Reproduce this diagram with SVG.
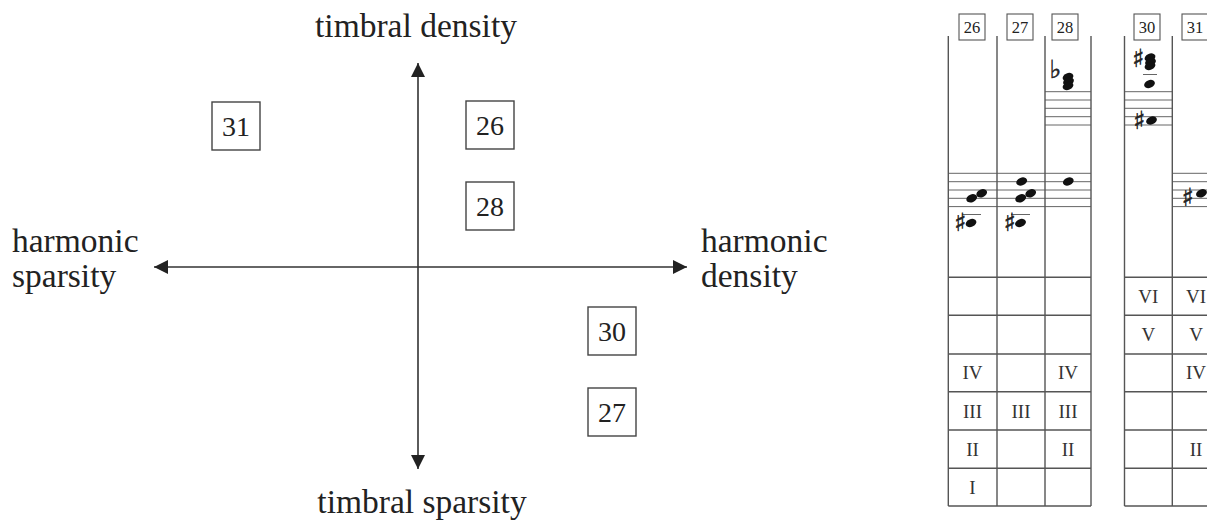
<svg xmlns="http://www.w3.org/2000/svg" width="1207" height="523" viewBox="0 0 1207 523">
<style>
.lbl{font-family:"Liberation Serif","Times New Roman",serif;font-size:33.5px;fill:#222}
.num{font-family:"Liberation Serif","Times New Roman",serif;font-size:28px;fill:#222;text-anchor:middle}
.box{fill:#fff;stroke:#444;stroke-width:1.4}
.axis{stroke:#333;stroke-width:1.6;fill:none}
.grid{stroke:#555;stroke-width:1.4;fill:none}
.staff{stroke:#666;stroke-width:1;fill:none}
.hb{fill:#fff;stroke:#555;stroke-width:1.1}
.hn{font-family:"Liberation Serif","Times New Roman",serif;font-size:16.5px;fill:#222;text-anchor:middle}
.rn{font-family:"Liberation Serif","Times New Roman",serif;font-size:19px;fill:#333;text-anchor:middle}
.acc{font-family:"DejaVu Sans",sans-serif;font-size:25px;fill:#222;stroke:#222;stroke-width:0.5;text-anchor:middle}
.nh{fill:#111}
</style>
<defs>
<marker id="ah" markerUnits="userSpaceOnUse" markerWidth="15" markerHeight="14" refX="14" refY="7" orient="auto-start-reverse">
<path d="M0,0 L14,7 L0,14 z" fill="#222"/>
</marker>
<ellipse id="note" rx="5.6" ry="3.9" transform="rotate(-22)" class="nh"/>
</defs>
<g id="connectors">
<line class="axis" x1="154" y1="267" x2="687" y2="267" marker-start="url(#ah)" marker-end="url(#ah)"/>
<line class="axis" x1="418" y1="63" x2="418" y2="469" marker-start="url(#ah)" marker-end="url(#ah)"/>
</g>
<g id="label-timbral-density"><text class="lbl" x="416" y="37" text-anchor="middle">timbral density</text></g>
<g id="label-timbral-sparsity"><text class="lbl" x="422" y="513" text-anchor="middle">timbral sparsity</text></g>
<g id="label-harmonic-sparsity"><text class="lbl" x="12" y="252">harmonic</text><text class="lbl" x="12" y="287">sparsity</text></g>
<g id="label-harmonic-density"><text class="lbl" x="701" y="252">harmonic</text><text class="lbl" x="701" y="287">density</text></g>
<g id="node-31"><rect class="box" x="212" y="102" width="48" height="48"/><text class="num" x="236" y="136">31</text></g>
<g id="node-26"><rect class="box" x="466" y="101" width="48" height="48"/><text class="num" x="490" y="135">26</text></g>
<g id="node-28"><rect class="box" x="466" y="182" width="48" height="48"/><text class="num" x="490" y="216">28</text></g>
<g id="node-30"><rect class="box" x="588" y="307" width="48" height="48"/><text class="num" x="612" y="341">30</text></g>
<g id="node-27"><rect class="box" x="588" y="388" width="48" height="48"/><text class="num" x="612" y="422">27</text></g>
<g id="score">
<g id="staff-lines">
<path class="staff" d="M948 173.3H1091M948 181.7H1091M948 190H1091M948 198.3H1091M948 206.6H1091"/>
<path class="staff" d="M1045 91.7H1091M1045 100H1091M1045 108.3H1091M1045 116.7H1091M1045 125H1091"/>
<path class="staff" d="M1124.5 91.7H1172.3M1124.5 100H1172.3M1124.5 108.3H1172.3M1124.5 116.7H1172.3M1124.5 125H1172.3"/>
<path class="staff" d="M1172.3 173.3H1207M1172.3 181.7H1207M1172.3 190H1207M1172.3 198.3H1207M1172.3 206.6H1207"/>
<path class="staff" d="M962 214.5H981M1011 214.5H1030M1143 74.5H1157"/>
</g>
<g id="grid">
<path class="grid" d="M948.3 36V506M997 36V506M1045 36V506M1091 36V506M1124.5 36V506M1172.3 36V506"/>
<path class="grid" d="M948.3 277.3H1091M948.3 315.3H1091M948.3 354H1091M948.3 391.7H1091M948.3 430H1091M948.3 468.3H1091M948.3 506H1091"/>
<path class="grid" d="M1124.5 277.3H1207M1124.5 315.3H1207M1124.5 354H1207M1124.5 391.7H1207M1124.5 430H1207M1124.5 468.3H1207M1124.5 506H1207"/>
</g>
<g id="col-26"><rect class="hb" x="959" y="14" width="26" height="26"/><text class="hn" x="972" y="33">26</text>
<use href="#note" transform="translate(971.7 198.3)"/><use href="#note" transform="translate(981.7 193.3)"/>
<text class="acc" x="960" y="231">♯︎</text><use href="#note" transform="translate(971 223)"/></g>
<g id="col-27"><rect class="hb" x="1007" y="14" width="26" height="26"/><text class="hn" x="1020" y="33">27</text>
<use href="#note" transform="translate(1021.7 181.5)"/><use href="#note" transform="translate(1020.7 198.3)"/><use href="#note" transform="translate(1030.7 193.3)"/>
<text class="acc" x="1009.5" y="231">♯︎</text><use href="#note" transform="translate(1020.5 223)"/></g>
<g id="col-28"><rect class="hb" x="1052" y="14" width="26" height="26"/><text class="hn" x="1065" y="33">28</text>
<text class="acc" x="1055.5" y="78">♭︎</text><use href="#note" transform="translate(1068 77)"/><use href="#note" transform="translate(1068.5 81.5)"/><use href="#note" transform="translate(1068 86)"/>
<use href="#note" transform="translate(1068.3 181.5)"/></g>
<g id="col-30"><rect class="hb" x="1134" y="14" width="26" height="26"/><text class="hn" x="1147" y="33">30</text>
<text class="acc" x="1138" y="67">♯︎</text><use href="#note" transform="translate(1150 57.5)"/><use href="#note" transform="translate(1150.5 62)"/><use href="#note" transform="translate(1150 66)"/>
<use href="#note" transform="translate(1149.5 84)"/>
<text class="acc" x="1139" y="129">♯︎</text><use href="#note" transform="translate(1151.5 120.5)"/></g>
<g id="col-31"><rect class="hb" x="1182" y="14" width="30" height="26"/><text class="hn" x="1195" y="33">31</text>
<text class="acc" x="1187.5" y="206">♯︎</text><use href="#note" transform="translate(1201.5 193.3)"/></g>
<g id="roman">
<text class="rn" x="1148.4" y="303">VI</text><text class="rn" x="1196" y="303">VI</text>
<text class="rn" x="1148.4" y="341">V</text><text class="rn" x="1196" y="341">V</text>
<text class="rn" x="972.5" y="379">IV</text><text class="rn" x="1068" y="379">IV</text><text class="rn" x="1196" y="379">IV</text>
<text class="rn" x="972.5" y="417.5">III</text><text class="rn" x="1021" y="417.5">III</text><text class="rn" x="1068" y="417.5">III</text>
<text class="rn" x="972.5" y="455.5">II</text><text class="rn" x="1068" y="455.5">II</text><text class="rn" x="1196" y="455.5">II</text>
<text class="rn" x="972.5" y="493.5">I</text>
</g>
</g>
</svg>
